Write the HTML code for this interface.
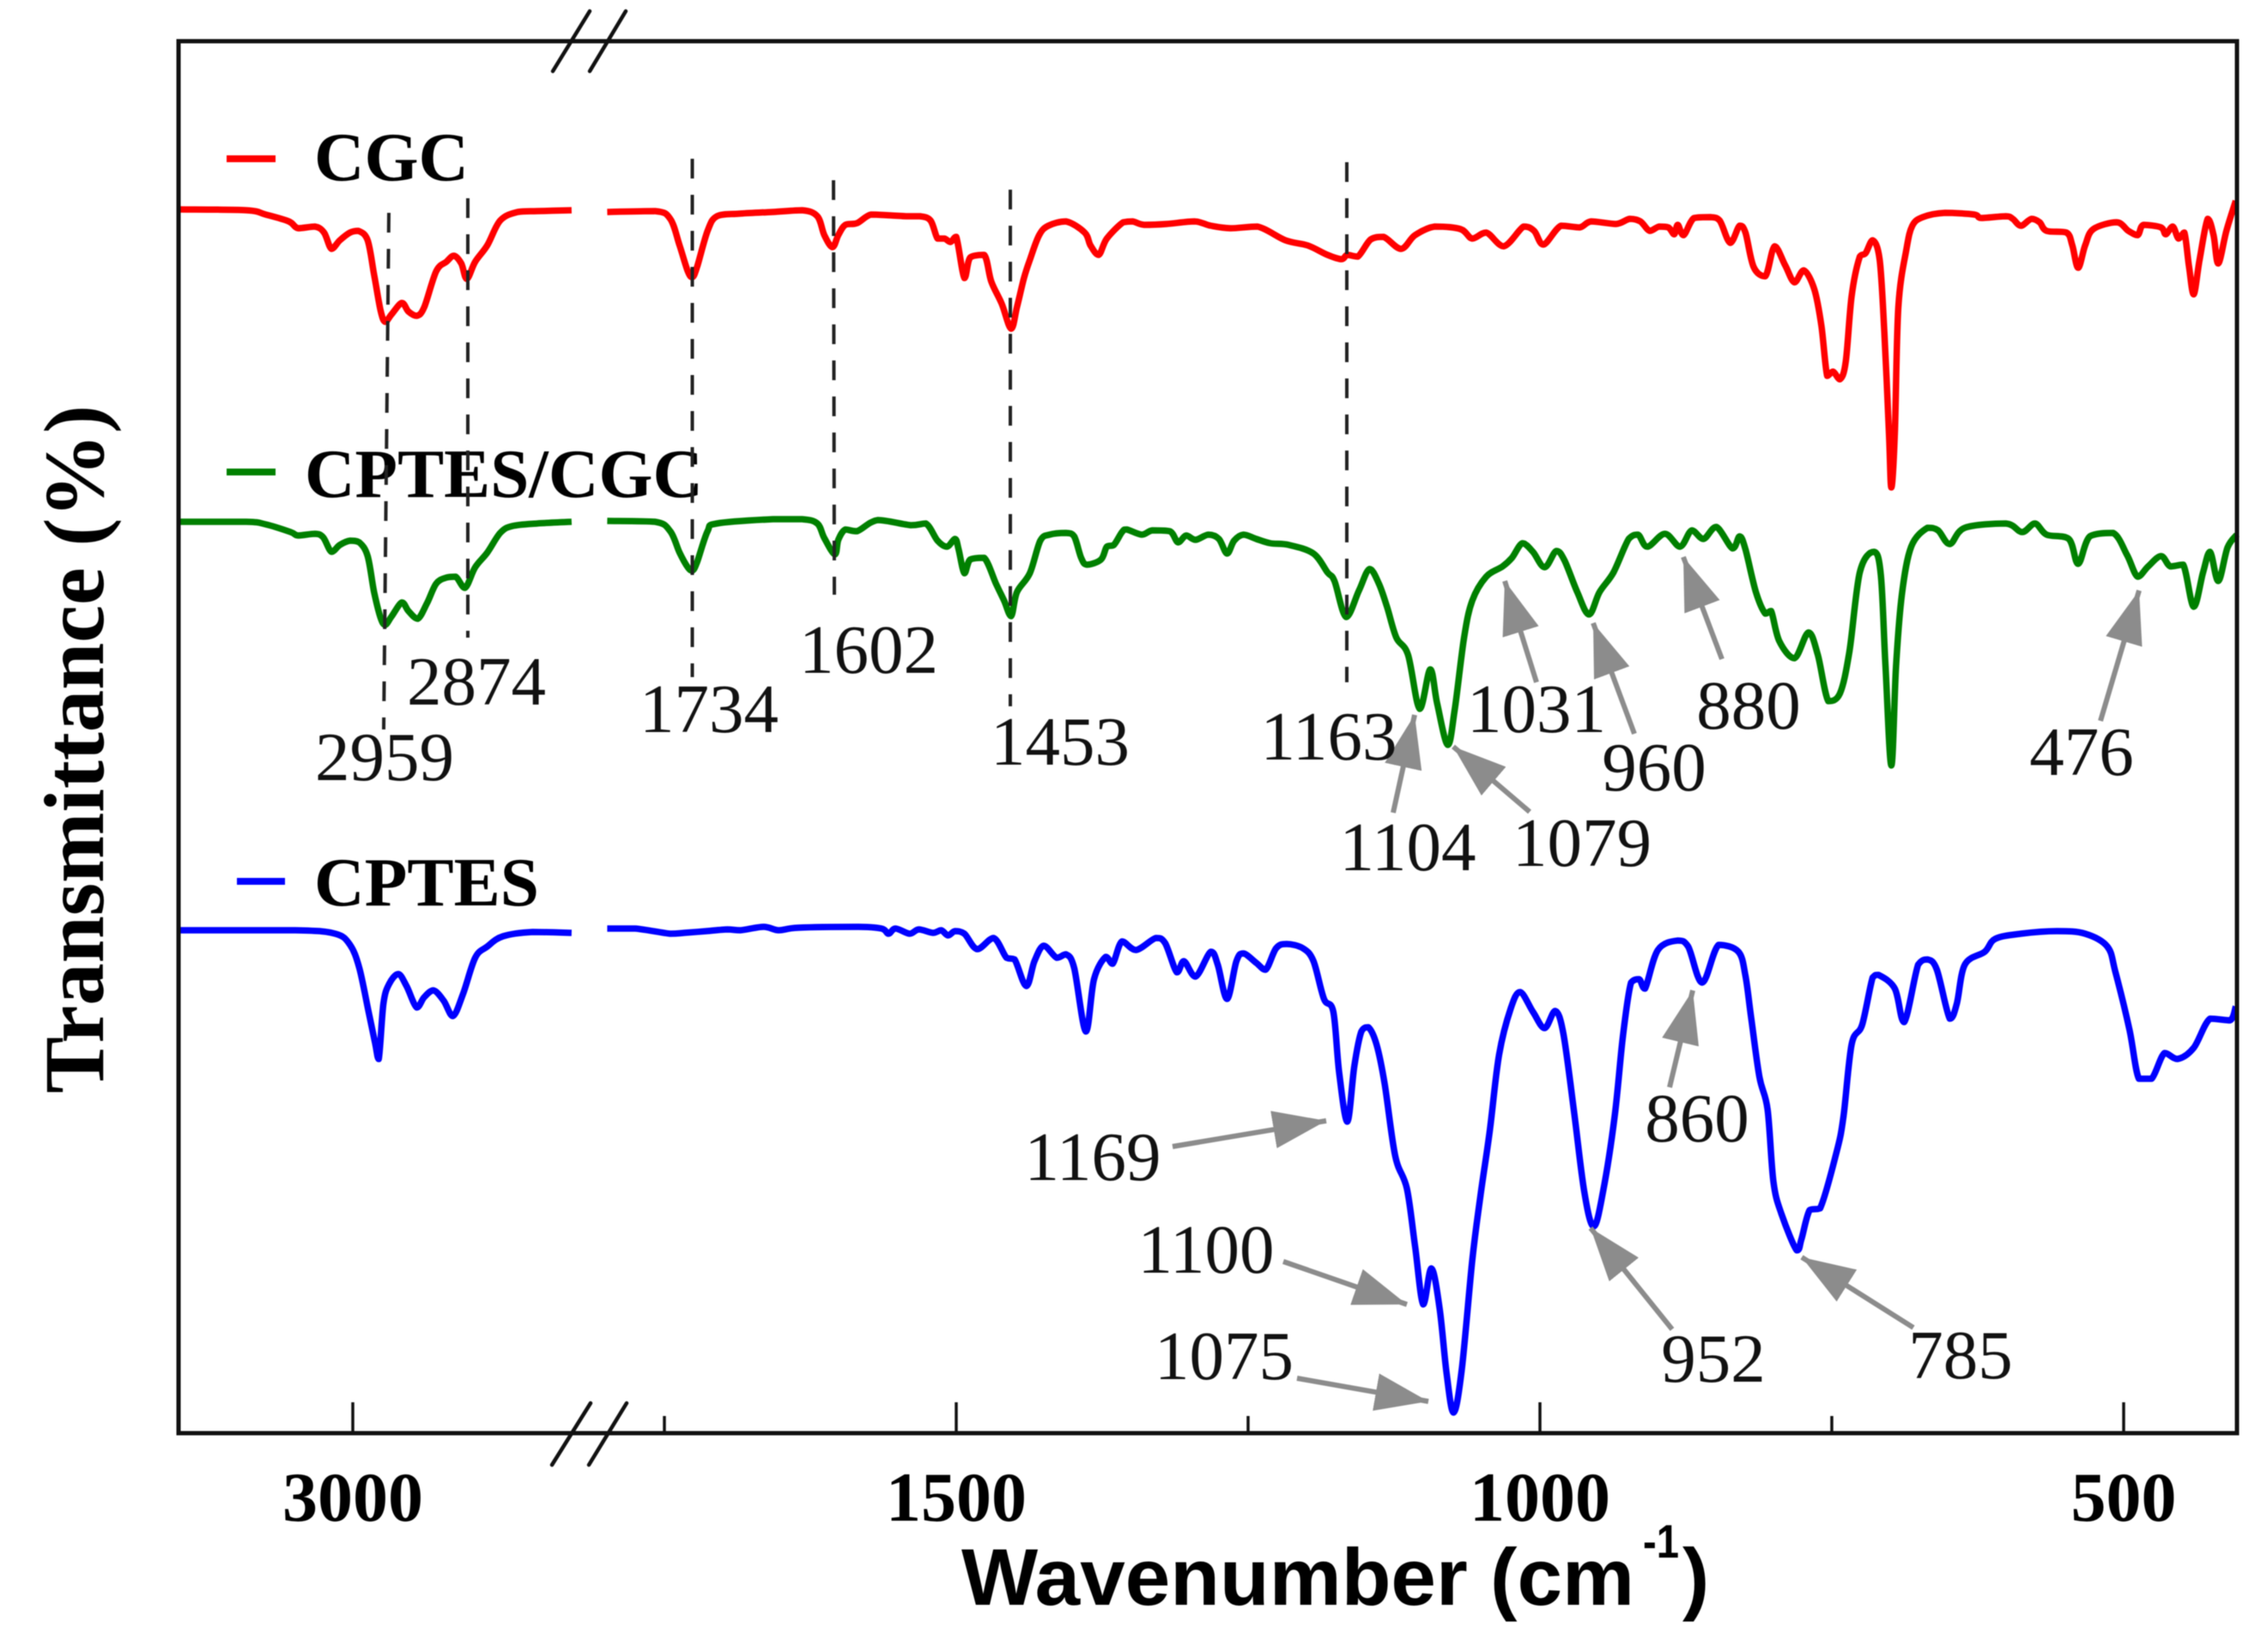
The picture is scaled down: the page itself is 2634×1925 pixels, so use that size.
<!DOCTYPE html>
<html lang="en">
<head>
<meta charset="utf-8">
<title>FTIR spectra of CGC, CPTES/CGC and CPTES</title>
<style>
html,body{margin:0;padding:0;background:#fff;}
svg{display:block;filter:blur(0.6px);}
.peak{font-family:"Liberation Serif",serif;font-size:81px;fill:#111;text-anchor:middle;}
.legend{font-family:"Liberation Serif",serif;font-size:80px;font-weight:bold;fill:#000;}
.tick-label{font-family:"Liberation Serif",serif;font-size:82px;font-weight:bold;fill:#000;text-anchor:middle;}
.dash{stroke:#222;stroke-width:4;stroke-dasharray:23 19;fill:none;}
.arrow{stroke:#8c8c8c;stroke-width:6;fill:none;}
.brk{stroke:#111;stroke-width:4.5;stroke-linecap:round;}
</style>
</head>
<body>
<svg id="chart" xmlns="http://www.w3.org/2000/svg" width="2634" height="1925" viewBox="0 0 2634 1925">
<defs>
<marker id="arrow-head" markerUnits="userSpaceOnUse" markerWidth="62" markerHeight="44" refX="62" refY="22" orient="auto">
<path d="M0,0 L62,22 L0,44 Z" fill="#8c8c8c"/>
</marker>
</defs>
<rect width="2634" height="1925" fill="#fff"/>
<g id="series-layer"></g>
<rect x="208" y="48" width="2398" height="1622" fill="none" stroke="#111" stroke-width="5"/>
<g id="tick-layer"></g>

<g>
<line class="brk" x1="644" y1="83" x2="687" y2="13"/>
<line class="brk" x1="687" y1="83" x2="729" y2="13"/>
</g>
<g>
<line class="brk" x1="643" y1="1707" x2="688" y2="1635"/>
<line class="brk" x1="686" y1="1707" x2="730" y2="1635"/>
</g>

<g>
<line x1="264" y1="185" x2="321" y2="185" stroke="#ff0000" stroke-width="8"/>
<text class="legend" x="366" y="210" textLength="180" lengthAdjust="spacingAndGlyphs">CGC</text>
</g>
<g>
<line x1="264" y1="550" x2="321" y2="550" stroke="#008000" stroke-width="8"/>
<text class="legend" x="355" y="579" textLength="464" lengthAdjust="spacingAndGlyphs">CPTES/CGC</text>
</g>
<g>
<line x1="276" y1="1027" x2="332" y2="1027" stroke="#0000ff" stroke-width="8"/>
<text class="legend" x="366" y="1055" textLength="262" lengthAdjust="spacingAndGlyphs">CPTES</text>
</g>

<g>
<line class="dash" x1="453" y1="248" x2="447" y2="850"/>
<line class="dash" x1="545" y1="231" x2="545" y2="743"/>
<line class="dash" x1="806.5" y1="185" x2="806.5" y2="789"/>
<line class="dash" x1="971" y1="210" x2="972" y2="693"/>
<line class="dash" x1="1177" y1="221" x2="1177" y2="823"/>
<line class="dash" x1="1569" y1="189" x2="1569" y2="795"/>
</g>

<g>
<line class="arrow" x1="1623" y1="947" x2="1648" y2="833" marker-end="url(#arrow-head)"/>
<line class="arrow" x1="1782" y1="946" x2="1693" y2="870" marker-end="url(#arrow-head)"/>
<line class="arrow" x1="1790" y1="795" x2="1753" y2="677" marker-end="url(#arrow-head)"/>
<line class="arrow" x1="1904" y1="855" x2="1856" y2="726" marker-end="url(#arrow-head)"/>
<line class="arrow" x1="2006" y1="768" x2="1961" y2="649" marker-end="url(#arrow-head)"/>
<line class="arrow" x1="2447" y1="840" x2="2492" y2="688" marker-end="url(#arrow-head)"/>
<line class="arrow" x1="1366" y1="1336" x2="1545" y2="1306" marker-end="url(#arrow-head)"/>
<line class="arrow" x1="1495" y1="1470" x2="1639" y2="1520" marker-end="url(#arrow-head)"/>
<line class="arrow" x1="1511" y1="1606" x2="1664" y2="1633" marker-end="url(#arrow-head)"/>
<line class="arrow" x1="1948" y1="1549" x2="1853" y2="1431" marker-end="url(#arrow-head)"/>
<line class="arrow" x1="1945" y1="1267" x2="1972" y2="1154" marker-end="url(#arrow-head)"/>
<line class="arrow" x1="2229" y1="1547" x2="2099" y2="1465" marker-end="url(#arrow-head)"/>
</g>

<g>
<text class="peak" x="448" y="909">2959</text>
<text class="peak" x="555" y="821">2874</text>
<text class="peak" x="826" y="853">1734</text>
<text class="peak" x="1012" y="784">1602</text>
<text class="peak" x="1235" y="891">1453</text>
<text class="peak" x="1548" y="885">1163</text>
<text class="peak" x="1790" y="853">1031</text>
<text class="peak" x="2037" y="849">880</text>
<text class="peak" x="1927" y="921">960</text>
<text class="peak" x="2425" y="903">476</text>
<text class="peak" x="1640" y="1014">1104</text>
<text class="peak" x="1843" y="1009">1079</text>
<text class="peak" x="1273" y="1375">1169</text>
<text class="peak" x="1405" y="1483">1100</text>
<text class="peak" x="1426" y="1607">1075</text>
<text class="peak" x="1996" y="1610">952</text>
<text class="peak" x="1977" y="1330">860</text>
<text class="peak" x="2284" y="1606">785</text>
</g>

<g id="tick-label-layer"></g>

<text transform="translate(120 1274) rotate(-90)" font-family="'Liberation Serif',serif" font-size="100" font-weight="bold" fill="#000" textLength="802" lengthAdjust="spacingAndGlyphs">Transmittance (%)</text>

<g font-family="'Liberation Sans',sans-serif" font-weight="bold" fill="#000">
<text x="1120" y="1870" font-size="94" textLength="784" lengthAdjust="spacingAndGlyphs">Wavenumber (cm</text>
<text x="1914" y="1815" font-size="55" textLength="42" lengthAdjust="spacingAndGlyphs">-1</text>
<text x="1960" y="1870" font-size="94">)</text>
</g>
</svg>

<script>
const majorTicks = [3000, 1500, 1000, 500];
const minorTicks = [1750, 1250, 750];
const tickLabels = ["3000", "1500", "1000", "500"];

const cgcWavenumber = [3188,3115,3094,3069,3059,3041,3031,3023,3014,3003,2994,2984,2977,2970,2965,2958,2947,2940,2931,2923,2910,2899,2891,2883,2877,2868,2855,2841,2822,2801,2764,
1799,1758,1745,1737,1730,1726,1722,1713,1705,1686,1657,
1632,1619,1613,1606,1601,1595,1585,1573,1556,1543,1531,1522,1516,1510,1505,1500,1493,1488,1476,1470,1461,1453,1448,1442,1437,1429,1421,1406,1390,1385,1378,1371,1357,1349,1339,1320,1296,1282,1265,1242,1218,1199,1182,1170,1165,1156,1145,1134,1119,1107,1090,1068,1058,1046,1031,1014,1005,997,
982,966,956,935,923,914,906,898,890,885,882,877,868,854,846,837,829,824,817,807,799,790,782,774,765,759,754,749,743,738,733,726,721,715,709,705,701,699,696,693,686,681,672,653,628,622,601,595,588,579,572,566,549,544,539,533,526,506,496,488,483,468,464,458,453,448,444,440,435,428,423,419,412,404];
const cgcTransmittance = [142.6,142.5,142.0,141.2,140.4,140.6,139.9,138.0,139.0,139.9,140.1,139.0,135.0,130.8,129.5,130.4,131.7,130.7,130.2,131.2,135.4,136.5,137.2,136.3,134.5,136.5,138.4,141.3,142.3,142.4,142.5,
142.3,142.4,141.5,138.4,135.4,134.7,135.9,140.1,141.8,142.1,142.3,
142.5,141.8,139.6,138.2,139.6,140.8,141.0,142.0,141.9,141.8,141.8,141.3,139.2,139.2,138.8,139.4,134.6,137.0,137.3,134.2,131.6,128.7,131.2,134.6,136.7,139.6,140.7,141.2,139.9,138.4,137.3,139.2,141.1,141.2,140.8,140.9,141.2,140.7,140.4,140.6,139.0,138.4,137.3,136.8,137.3,137.1,139.1,139.4,138.0,139.6,140.6,140.3,139.2,139.9,138.3,140.6,140.1,138.5,
140.7,140.5,141.2,140.9,141.5,141.2,140.1,140.6,140.5,139.7,140.8,139.6,141.6,141.7,141.3,138.7,140.7,139.9,135.9,134.8,138.3,136.1,134.1,135.5,133.3,129.1,123.2,123.7,122.8,124.9,132.5,137.1,137.5,139.0,136.7,128.3,116.5,110.2,116.5,131.2,138.0,140.7,141.7,142.2,142.0,141.6,141.8,141.5,140.7,141.5,141.1,140.1,139.9,138.4,135.8,138.4,140.3,141.1,140.1,139.6,140.8,140.5,139.7,140.6,139.2,139.9,135.9,132.7,136.7,141.5,139.6,136.3,140.1,143.6];

const cptesCgcWavenumber = [3188,3115,3094,3067,3059,3041,3032,3023,3014,3003,2993,2984,2977,2970,2965,2958,2947,2940,2930,2920,2910,2899,2889,2879,2868,2855,2841,2828,2801,2764,
1799,1758,1745,1737,1730,1726,1722,1713,1705,1657,1632,1619,1613,1604,1601,1595,1585,1567,1539,1526,1516,1508,1501,1498,1493,1488,1476,1466,1459,1453,1448,1437,1428,1420,1406,1399,1393,1388,1376,1371,1365,1358,1354,1341,1332,1317,1310,1303,1295,1284,1275,1268,1262,1254,1243,1231,1215,1194,1182,1176,1166,1155,1146,1138,1131,1123,1113,1103,1094,1088,1079,1073,1065,1058,1046,1032,1024,1015,1006,996,986,979,968,958,949,937,924,916,908,893,880,870,860,849,835,829,824,815,807,802,795,782,770,762,753,743,735,726,714,708,704,699,695,690,682,668,659,649,636,601,587,576,566,547,539,529,509,497,488,479,468,460,449,440,432,426,419,411,403];
const cptesCgcTransmittance = [106.2,106.2,105.9,105.0,104.6,104.8,104.4,102.7,103.5,104.0,103.8,102.2,98.0,95.0,94.2,95.2,96.8,95.8,94.9,96.7,99.0,99.7,99.8,98.5,100.9,102.6,104.9,105.7,106.0,106.2,
106.3,106.2,105.1,102.6,100.9,100.5,101.5,105.1,106.0,106.5,106.5,106.0,104.3,102.4,104.1,105.3,105.1,106.4,105.8,106.0,104.0,103.3,104.2,103.0,100.2,101.8,102.0,99.0,97.0,95.2,98.0,100.2,104.0,104.7,104.9,104.5,102.0,101.2,101.8,103.3,103.5,105.0,105.3,104.7,105.2,105.1,103.8,104.6,104.1,104.7,104.2,102.5,104.0,104.7,104.2,103.7,103.5,102.5,100.3,99.3,95.1,98.2,100.7,99.0,96.3,92.7,90.7,84.4,89.0,85.0,80.2,84.3,92.7,97.0,99.8,101.0,102.0,103.7,102.7,100.9,102.8,101.7,98.0,95.4,98.0,100.3,104.2,104.7,103.3,104.8,103.3,105.2,104.2,105.6,103.1,104.5,103.0,98.0,95.5,95.8,92.3,90.3,93.3,90.7,85.3,86.2,91.0,100.3,102.7,100.0,89.3,77.8,89.3,97.7,103.3,105.5,105.2,103.6,105.5,106.0,105.0,106.0,104.7,104.2,101.3,104.5,104.9,102.3,99.8,101.0,102.2,101.0,101.2,96.3,100.3,102.7,99.3,103.2,104.7];

const cptesWavenumber = [3188,3062,3019,3003,2993,2983,2976,2972,2967,2961,2951,2942,2931,2923,2913,2902,2892,2881,2868,2855,2838,2806,2764,
1799,1775,1745,1733,1714,1696,1685,1665,1652,1635,1584,1564,1558,1552,1540,1532,1520,1513,1507,1501,1493,1482,1468,1457,1450,1440,1433,1425,1414,1406,1399,1389,1382,1372,1366,1358,1346,1329,1321,1311,1305,1295,1282,1276,1268,1260,1254,1243,1235,1226,1217,1203,1194,1185,1177,1172,1165,1159,1153,1147,1140,1133,1124,1114,1107,1100,1093,1086,1080,1074,1067,1058,1051,1043,1035,1025,1017,1006,996,987,980,971,962,954,946,936,929,922,915,910,899,882,873,861,847,830,824,819,812,805,800,793,780,776,769,760,746,740,733,724,715,710,696,688,676,668,660,649,643,636,619,610,588,557,533,514,507,495,487,476,465,454,440,426,409,404];
const cptesTransmittance = [58.6,58.6,58.2,56.9,54.2,49.1,45.5,43.6,50.0,52.3,53.5,52.1,49.6,50.8,51.6,50.4,48.6,51.2,55.4,56.7,57.9,58.4,58.3,
58.8,58.8,58.2,58.3,58.5,58.7,58.6,59.0,58.6,58.9,59.0,58.8,58.2,58.8,58.2,58.7,58.3,58.6,58.0,58.5,58.2,56.4,57.7,55.4,55.2,52.1,55.0,56.8,55.4,55.8,54.2,46.8,52.9,55.5,54.7,57.3,56.3,57.7,57.1,53.7,55.0,53.2,56.1,54.6,50.6,55.0,55.9,54.8,54.0,56.5,57.0,56.5,55.0,50.6,49.1,42.0,36.3,42.8,46.8,47.3,45.3,40.7,32.3,28.5,21.8,15.0,19.2,14.6,7.0,2.4,7.4,20.1,27.6,35.2,44.1,49.5,51.4,49.1,47.2,49.2,46.6,37.7,28.1,24.1,28.1,36.9,46.2,52.5,52.9,51.8,56.3,57.4,56.7,52.5,56.9,56.1,53.3,48.3,41.5,37.7,29.3,25.5,21.3,22.6,26.0,26.2,32.7,36.9,45.3,47.6,53.1,53.4,51.8,47.9,54.6,55.2,54.0,48.3,50.0,54.6,56.1,57.6,58.2,58.5,58.2,56.7,53.7,47.0,41.3,41.3,44.3,43.6,44.9,48.3,48.1,49.7];

const SVG_NS = "http://www.w3.org/2000/svg";
const BREAK_WN = 2000;

function xScale(wn) {
  return wn > BREAK_WN ? 411 + (3000 - wn) * 1.08 : 1794 + (1000 - wn) * 1.36;
}
function yScale(t) {
  return 1670 - t * 10;
}
function clamp(v, a, b) {
  return Math.max(Math.min(a, b), Math.min(Math.max(a, b), v));
}
function smoothSegment(pts) {
  let d = "M" + pts[0][0].toFixed(1) + "," + pts[0][1].toFixed(1);
  for (let i = 0; i < pts.length - 1; i++) {
    const p0 = pts[Math.max(0, i - 1)];
    const p1 = pts[i];
    const p2 = pts[i + 1];
    const p3 = pts[Math.min(pts.length - 1, i + 2)];
    const c1x = p1[0] + (p2[0] - p0[0]) / 6;
    const c1y = clamp(p1[1] + (p2[1] - p0[1]) / 6, p1[1], p2[1]);
    const c2x = p2[0] - (p3[0] - p1[0]) / 6;
    const c2y = clamp(p2[1] - (p3[1] - p1[1]) / 6, p1[1], p2[1]);
    d += "C" + c1x.toFixed(1) + "," + c1y.toFixed(1) + " " + c2x.toFixed(1) + "," + c2y.toFixed(1) + " " + p2[0].toFixed(1) + "," + p2[1].toFixed(1);
  }
  return d;
}
function tracePath(wn, t) {
  const left = [];
  const right = [];
  for (let i = 0; i < wn.length; i++) {
    (wn[i] > BREAK_WN ? left : right).push([xScale(wn[i]), yScale(t[i])]);
  }
  return smoothSegment(left) + smoothSegment(right);
}
function addTrace(wn, t, color) {
  const p = document.createElementNS(SVG_NS, "path");
  p.setAttribute("d", tracePath(wn, t));
  p.setAttribute("fill", "none");
  p.setAttribute("stroke", color);
  p.setAttribute("stroke-width", "7.5");
  p.setAttribute("stroke-linejoin", "round");
  document.getElementById("series-layer").appendChild(p);
  return p;
}
const cgcLine = addTrace(cgcWavenumber, cgcTransmittance, "#ff0000");


const cptesCgcLine = addTrace(cptesCgcWavenumber, cptesCgcTransmittance, "#008000");


const cptesLine = addTrace(cptesWavenumber, cptesTransmittance, "#0000ff");



function addTick(wn, len) {
  const l = document.createElementNS(SVG_NS, "line");
  const x = xScale(wn);
  l.setAttribute("x1", x);
  l.setAttribute("x2", x);
  l.setAttribute("y1", 1670);
  l.setAttribute("y2", 1670 - len);
  l.setAttribute("stroke", "#111");
  l.setAttribute("stroke-width", "3.5");
  document.getElementById("tick-layer").appendChild(l);
  return l;
}
majorTicks.forEach(function (wn, i) {
  const tick = addTick(wn, 36);
  
  
  const label = document.createElementNS(SVG_NS, "text");
  label.setAttribute("class", "tick-label");
  label.setAttribute("x", xScale(wn));
  label.setAttribute("y", 1772);
  label.textContent = tickLabels[i];
  
  
  document.getElementById("tick-label-layer").appendChild(label);
});
minorTicks.forEach(function (wn) {
  const tick = addTick(wn, 20);
  
  
});
</script>
</body>
</html>
